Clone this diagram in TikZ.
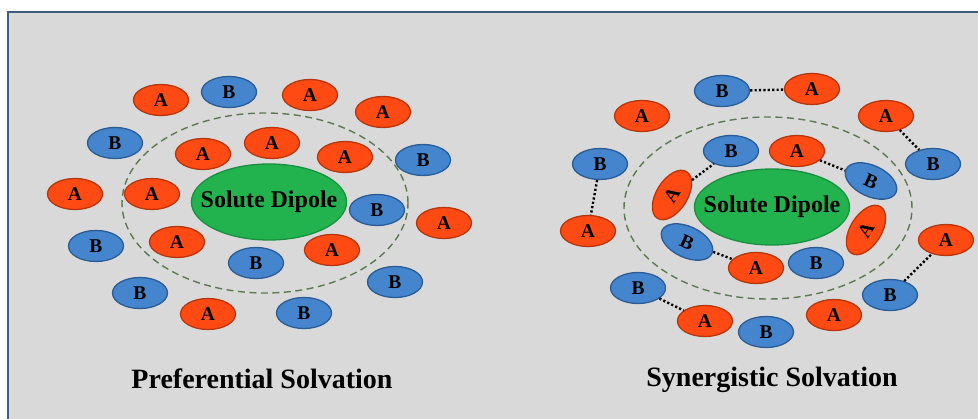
\documentclass[tikz,border=0pt]{standalone}
\usepackage{fontspec}
\setmainfont{Liberation Serif}
\usetikzlibrary{shapes.geometric}

\definecolor{panelbg}{HTML}{D9D9D9}
\definecolor{frameline}{HTML}{3F5F7E}
\definecolor{redc}{HTML}{FF4A14}
\definecolor{redd}{HTML}{B8360C}
\definecolor{bluec}{HTML}{4485CD}
\definecolor{blued}{HTML}{2A5C95}
\definecolor{greenc}{HTML}{22B34F}
\definecolor{greend}{HTML}{179140}
\definecolor{shellc}{HTML}{5C7A52}

\tikzset{
  bead/.style={ellipse, minimum width=55pt, minimum height=31pt, inner sep=0pt,
    line width=1.3pt, font=\bfseries\fontsize{19.5}{19.5}\selectfont, text=black},
  beadA/.style={bead, fill=redc, draw=redd},
  beadB/.style={bead, fill=bluec, draw=blued},
  solute/.style={ellipse, minimum width=154pt, minimum height=76pt,
    inner xsep=-13.5pt, inner ysep=0pt,
    fill=greenc, draw=greend, line width=1.3pt,
    font=\bfseries\fontsize{24}{24}\selectfont},
  shell/.style={draw=shellc, line width=1.4pt, dash pattern=on 7pt off 4.5pt},
  dotlink/.style={draw=black, line width=2.4pt, dash pattern=on 2.2pt off 2.2pt},
  caption/.style={font=\bfseries\fontsize{28}{28}\selectfont}
}

\begin{document}
\begin{tikzpicture}[x=1pt,y=-1pt]
\useasboundingbox (0,0) rectangle (978,419);
\fill[white] (0,0) rectangle (978,419);
% framed panel
\draw[fill=panelbg, draw=frameline, line width=1.5pt] (8,12) rectangle (995,440);

% ---------- Preferential solvation ----------
\draw[shell] (265,203) ellipse (143pt and 90pt);
\node[solute] (pdip) at (269,202) {Solute Dipole};

\node[beadA] (pa1)  at (161,100) {A};
\node[beadB] (pb1)  at (229,92)  {B};
\node[beadA] (pa2)  at (310,95)  {A};
\node[beadA] (pa3)  at (383,112) {A};
\node[beadB] (pb2)  at (115,143) {B};
\node[beadA] (pa4)  at (203,154) {A};
\node[beadA] (pa5)  at (272,143) {A};
\node[beadA] (pa6)  at (345,157) {A};
\node[beadB] (pb3)  at (423,160) {B};
\node[beadA] (pa7)  at (75,194)  {A};
\node[beadA] (pa8)  at (152,194) {A};
\node[beadB] (pb4)  at (377,210) {B};
\node[beadA] (pa9)  at (444,223) {A};
\node[beadB] (pb5)  at (96,246)  {B};
\node[beadA] (pa10) at (177,242) {A};
\node[beadB] (pb6)  at (256,263) {B};
\node[beadA] (pa11) at (332,250) {A};
\node[beadB] (pb7)  at (140,293) {B};
\node[beadB] (pb8)  at (395,282) {B};
\node[beadA] (pa12) at (208,314) {A};
\node[beadB] (pb9)  at (304,313) {B};

\node[caption] (ptitle) at (262,379) {Preferential Solvation};

% ---------- Synergistic solvation ----------
\draw[shell] (768,208) ellipse (144pt and 91pt);
\node[solute] (sdip) at (772,207) {Solute Dipole};

\node[beadB] (sb1)  at (722,91)  {B};
\node[beadA] (sa1)  at (812,89)  {A};
\node[beadA] (sa2)  at (642,116) {A};
\node[beadA] (sa3)  at (886,116) {A};
\node[beadB] (sb2)  at (933,164) {B};
\node[beadB] (sb3)  at (600,164) {B};
\node[beadA] (sa4)  at (588,231) {A};
\node[beadB] (sb4)  at (731,151) {B};
\node[beadA] (sa5)  at (797,151) {A};
\node[beadB, rotate=-25] (sb5) at (871,181) {B};
\node[beadA, rotate=58]  (sa6) at (672,195) {A};
\node[beadA, rotate=58]  (sa7) at (866,230) {A};
\node[beadB, rotate=-25] (sb6) at (687,242) {B};
\node[beadA] (sa8)  at (756,268) {A};
\node[beadB] (sb7)  at (816,263) {B};
\node[beadA] (sa9)  at (946,240) {A};
\node[beadB] (sb8)  at (890,295) {B};
\node[beadB] (sb9)  at (638,288) {B};
\node[beadA] (sa10) at (705,321) {A};
\node[beadB] (sb10) at (766,332) {B};
\node[beadA] (sa11) at (834,315) {A};

% dotted A--B pairings
\draw[dotlink] (sb1) -- (sa1);
\draw[dotlink] (sa3) -- (sb2);
\draw[dotlink] (sb3) -- (sa4);
\draw[dotlink] (sa5) -- (sb5);
\draw[dotlink] (sa6) -- (sb4);
\draw[dotlink] (sb6) -- (sa8);
\draw[dotlink] (sb8) -- (sa9);
\draw[dotlink] (sb9) -- (sa10);

\node[caption] (stitle) at (772,380) {Synergistic Solvation};
\end{tikzpicture}
\end{document}
